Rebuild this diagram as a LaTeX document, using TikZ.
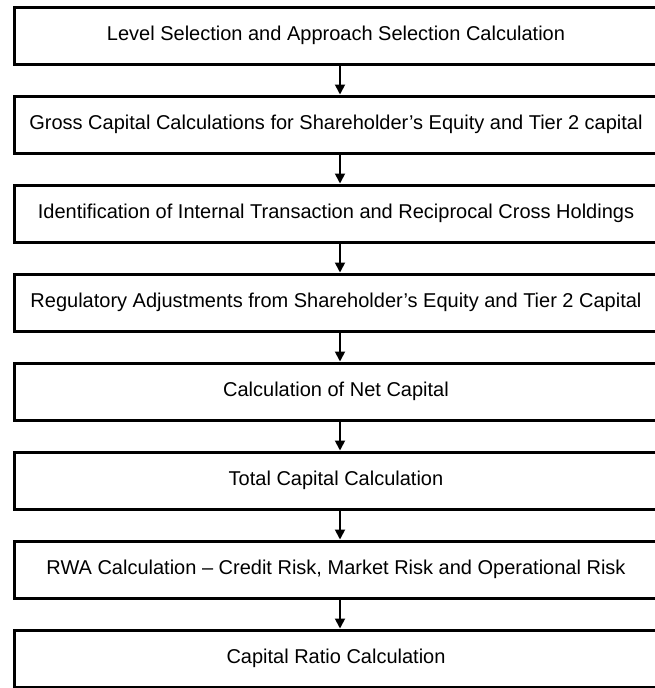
\documentclass[tikz,border=0pt]{standalone}
\usepackage{fontspec}
\setmainfont{Liberation Sans}
\usetikzlibrary{arrows.meta}
\tikzset{
  stepbox/.style={draw=black, line width=3pt, rectangle, minimum width=652pt, minimum height=57pt,
    inner sep=0pt, font=\fontsize{20}{22}\selectfont, execute at begin node={\hspace*{-8pt}}},
  flowarrow/.style={line width=1.8pt, -{Triangle[width=10pt,length=10pt]}}
}
\begin{document}
\begin{tikzpicture}[x=1pt,y=-1pt]
\useasboundingbox (0,0) rectangle (655,688);
\clip (0,0) rectangle (655,688);
\node[stepbox] (b1) at (340,35.5) {Level Selection and Approach Selection Calculation};
\node[stepbox] (b2) at (340,124.5) {Gross Capital Calculations for Shareholder’s Equity and Tier 2 capital};
\node[stepbox] (b3) at (340,213.5) {Identification of Internal Transaction and Reciprocal Cross Holdings};
\node[stepbox] (b4) at (340,302.5) {Regulatory Adjustments from Shareholder’s Equity and Tier 2 Capital};
\node[stepbox] (b5) at (340,391.5) {Calculation of Net Capital};
\node[stepbox] (b6) at (340,480.5) {Total Capital Calculation};
\node[stepbox] (b7) at (340,569.5) {RWA Calculation – Credit Risk, Market Risk and Operational Risk};
\node[stepbox] (b8) at (340,658.5) {Capital Ratio Calculation};
\foreach \a/\b in {b1/b2,b2/b3,b3/b4,b4/b5,b5/b6,b6/b7,b7/b8}
  \draw[flowarrow] (\a.south) -- (\b.north);
\end{tikzpicture}
\end{document}
